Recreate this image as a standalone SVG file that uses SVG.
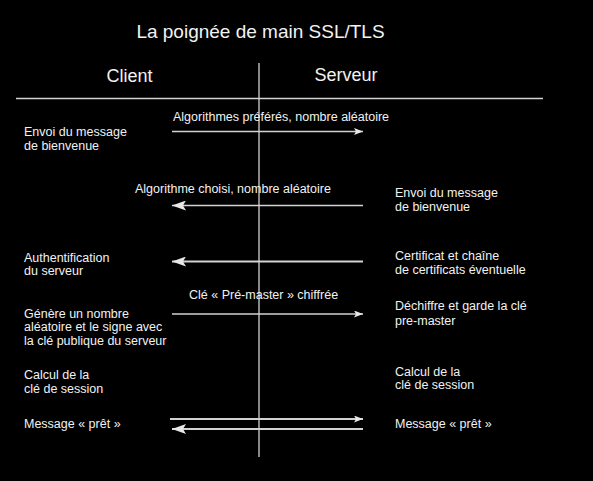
<svg xmlns="http://www.w3.org/2000/svg" width="593" height="481" viewBox="0 0 593 481">
<style>
text{font-family:"Liberation Sans",Arial,sans-serif;fill:#f2f2f2}
.t{font-size:19px}
.h{font-size:18px}
.s{font-size:12.5px}
.ln{stroke:#d2d2d2;stroke-width:1.3;fill:none}
.ar{stroke:#d2d2d2;stroke-width:1.5;fill:none}
.ar2{stroke:#d2d2d2;stroke-width:2;fill:none}
</style>
<defs>
<marker id="big" markerUnits="userSpaceOnUse" viewBox="0 0 14 10" markerWidth="14" markerHeight="10" refX="14" refY="5" orient="auto">
<path d="M0,0 L14,5 L0,10 L3,5 Z" fill="#e8e8e8"/>
</marker>
<marker id="small" markerUnits="userSpaceOnUse" viewBox="0 0 9 7" markerWidth="9" markerHeight="7" refX="9" refY="3.5" orient="auto">
<path d="M0,0 L9,3.5 L0,7 L2,3.5 Z" fill="#e8e8e8"/>
</marker>
</defs>
<rect width="593" height="481" fill="#000"/>
<g id="header">
<text class="t" x="260.5" y="38" text-anchor="middle">La poignée de main SSL/TLS</text>
<text class="h" x="129.5" y="82" text-anchor="middle">Client</text>
<text class="h" x="346" y="81" text-anchor="middle">Serveur</text>
</g>
<g id="connectors">
<line class="ln" x1="259" y1="63" x2="259" y2="457"/>
<line class="ln" x1="16" y1="98.5" x2="543" y2="98.5"/>
<line class="ar" x1="172" y1="131.5" x2="363" y2="131.5" marker-end="url(#small)"/>
<line class="ar" x1="363" y1="205.5" x2="172" y2="205.5" marker-end="url(#big)"/>
<line class="ar2" x1="363" y1="261.5" x2="172" y2="261.5" marker-end="url(#big)"/>
<line class="ar" x1="172" y1="314" x2="363" y2="314" marker-end="url(#small)"/>
<line class="ar2" x1="170" y1="419" x2="363" y2="419" marker-end="url(#small)"/>
<line class="ar2" x1="363" y1="429" x2="172" y2="429" marker-end="url(#big)"/>
<text class="s" x="173" y="120.5">Algorithmes préférés, nombre aléatoire</text>
<text class="s" x="135" y="193">Algorithme choisi, nombre aléatoire</text>
<text class="s" x="189" y="298.5">Clé « Pré-master » chiffrée</text>
</g>
<g id="client-hello">
<text class="s" x="24" y="136">Envoi du message</text>
<text class="s" x="24" y="149.5">de bienvenue</text>
</g>
<g id="server-hello">
<text class="s" x="395" y="197">Envoi du message</text>
<text class="s" x="395" y="211">de bienvenue</text>
</g>
<g id="client-auth">
<text class="s" x="24" y="261.5">Authentification</text>
<text class="s" x="24" y="275">du serveur</text>
</g>
<g id="server-cert">
<text class="s" x="395" y="259.5">Certificat et chaîne</text>
<text class="s" x="395" y="273.5">de certificats éventuelle</text>
</g>
<g id="client-premaster">
<text class="s" x="24" y="317.5">Génère un nombre</text>
<text class="s" x="24" y="331">aléatoire et le signe avec</text>
<text class="s" x="24" y="344.5">la clé publique du serveur</text>
</g>
<g id="server-premaster">
<text class="s" x="395" y="310">Déchiffre et garde la clé</text>
<text class="s" x="395" y="324.5">pre-master</text>
</g>
<g id="client-session">
<text class="s" x="24" y="379">Calcul de la</text>
<text class="s" x="24" y="392.5">clé de session</text>
</g>
<g id="server-session">
<text class="s" x="395" y="376">Calcul de la</text>
<text class="s" x="395" y="388.5">clé de session</text>
</g>
<g id="client-ready">
<text class="s" x="24" y="428">Message « prêt »</text>
</g>
<g id="server-ready">
<text class="s" x="395" y="428">Message « prêt »</text>
</g>
</svg>
